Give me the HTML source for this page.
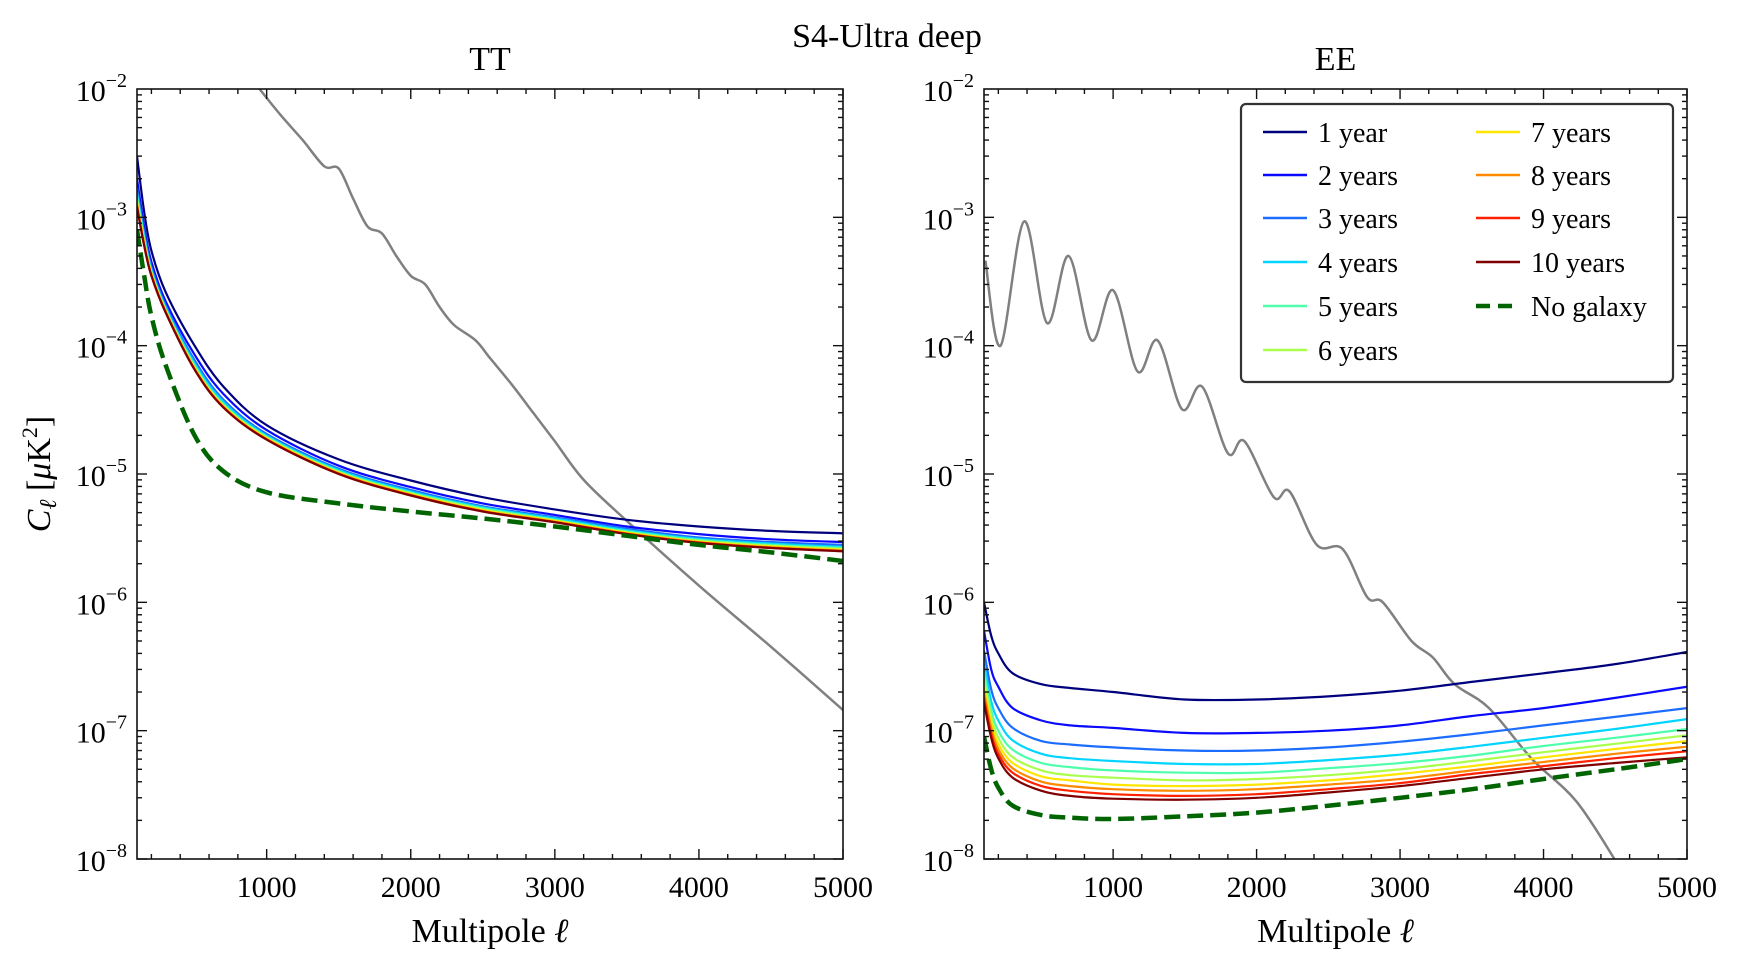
<!DOCTYPE html>
<html><head><meta charset="utf-8"><style>
html,body{margin:0;padding:0;background:#fff;}
svg{display:block;font-family:"Liberation Serif","DejaVu Serif",serif;}
</style></head><body>
<svg id="fig" width="1740" height="965" viewBox="0 0 1740 965" xmlns="http://www.w3.org/2000/svg">
<text x="887" y="47" font-size="34" text-anchor="middle">S4-Ultra deep</text>
<g id="root"></g>
</svg>
<script>
const ells = [100,150,200,300,500,700,1000,1500,2000,2500,3000,3500,4000,4500,5000];
const seriesNames = ["1 year","2 years","3 years","4 years","5 years","6 years","7 years","8 years","9 years","10 years"];
const seriesColors = ["#00007f","#0a0aff","#1c6dff","#00d4ff","#4dffaa","#aaff4d","#ffe500","#ff8a00","#ff2100","#7f0000"];
const tt1 = [3e-3,1.1e-3,5.5e-4,2.6e-4,1.0e-4,4.8e-5,2.4e-5,1.3e-5,8.9e-6,6.6e-6,5.3e-6,4.4e-6,3.9e-6,3.6e-6,3.45e-6];
const tt2 = [2.0e-3,8.4e-4,4.5e-4,2.2e-4,8.5e-5,4.2e-5,2.2e-5,1.16e-5,7.9e-6,5.9e-6,4.8e-6,3.9e-6,3.4e-6,3.1e-6,2.95e-6];
const tt3 = [1.7e-3,7.6e-4,4.1e-4,2.05e-4,7.7e-5,3.8e-5,2.05e-5,1.1e-5,7.5e-6,5.6e-6,4.6e-6,3.75e-6,3.2e-6,2.95e-6,2.8e-6];
const tt4 = [1.55e-3,7.1e-4,3.9e-4,1.97e-4,7.3e-5,3.65e-5,1.99e-5,1.075e-5,7.3e-6,5.5e-6,4.5e-6,3.65e-6,3.12e-6,2.87e-6,2.7e-6];
const tt5 = [1.45e-3,6.8e-4,3.8e-4,1.92e-4,7.0e-5,3.5e-5,1.95e-5,1.05e-5,7.15e-6,5.4e-6,4.4e-6,3.57e-6,3.06e-6,2.8e-6,2.65e-6];
const tt6 = [1.37e-3,6.5e-4,3.7e-4,1.88e-4,6.8e-5,3.43e-5,1.92e-5,1.035e-5,7.05e-6,5.3e-6,4.35e-6,3.52e-6,3.01e-6,2.76e-6,2.6e-6];
const tt7 = [1.3e-3,6.3e-4,3.63e-4,1.85e-4,6.7e-5,3.38e-5,1.89e-5,1.022e-5,6.95e-6,5.22e-6,4.3e-6,3.48e-6,2.97e-6,2.72e-6,2.56e-6];
const tt8 = [1.26e-3,6.15e-4,3.57e-4,1.83e-4,6.6e-5,3.34e-5,1.87e-5,1.012e-5,6.88e-6,5.16e-6,4.25e-6,3.44e-6,2.94e-6,2.68e-6,2.53e-6];
const tt9 = [1.22e-3,6.05e-4,3.52e-4,1.81e-4,6.53e-5,3.31e-5,1.86e-5,1.004e-5,6.83e-6,5.12e-6,4.22e-6,3.42e-6,2.92e-6,2.66e-6,2.51e-6];
const tt10 = [1.2e-3,6e-4,3.5e-4,1.8e-4,6.5e-5,3.3e-5,1.85e-5,1.0e-5,6.8e-6,5.1e-6,4.2e-6,3.4e-6,2.9e-6,2.65e-6,2.5e-6];
const ttNoGal = [8e-4,3.5e-4,1.7e-4,7e-5,2.0e-5,1.05e-5,7.2e-6,5.9e-6,5.1e-6,4.5e-6,3.9e-6,3.3e-6,2.8e-6,2.45e-6,2.1e-6];
const ee1 = [1.0e-6,5.5e-7,4.0e-7,2.8e-7,2.3e-7,2.15e-7,2.0e-7,1.75e-7,1.75e-7,1.85e-7,2.05e-7,2.4e-7,2.8e-7,3.3e-7,4.1e-7];
const ee2 = [6e-7,3e-7,2.2e-7,1.5e-7,1.2e-7,1.1e-7,1.05e-7,9.6e-8,9.6e-8,1.0e-7,1.1e-7,1.3e-7,1.5e-7,1.8e-7,2.2e-7];
const ee3 = [4.2e-7,2.1e-7,1.5e-7,1.05e-7,8.3e-8,7.8e-8,7.4e-8,7.0e-8,7.0e-8,7.4e-8,8.2e-8,9.4e-8,1.1e-7,1.28e-7,1.5e-7];
const ee4 = [3.4e-7,1.7e-7,1.2e-7,8.4e-8,6.6e-8,6.1e-8,5.8e-8,5.5e-8,5.5e-8,5.9e-8,6.5e-8,7.5e-8,8.8e-8,1.03e-7,1.23e-7];
const ee5 = [2.9e-7,1.45e-7,1.0e-7,7.1e-8,5.6e-8,5.2e-8,4.9e-8,4.7e-8,4.7e-8,5.1e-8,5.6e-8,6.4e-8,7.6e-8,8.8e-8,1.03e-7];
const ee6 = [2.5e-7,1.28e-7,8.8e-8,6.2e-8,4.9e-8,4.5e-8,4.3e-8,4.1e-8,4.2e-8,4.5e-8,5.0e-8,5.8e-8,6.8e-8,7.9e-8,9.2e-8];
const ee7 = [2.2e-7,1.15e-7,7.9e-8,5.6e-8,4.4e-8,4.1e-8,3.8e-8,3.7e-8,3.8e-8,4.1e-8,4.6e-8,5.3e-8,6.2e-8,7.2e-8,8.3e-8];
const ee8 = [2.0e-7,1.05e-7,7.2e-8,5.1e-8,4.0e-8,3.7e-8,3.5e-8,3.4e-8,3.5e-8,3.8e-8,4.2e-8,4.9e-8,5.7e-8,6.6e-8,7.5e-8];
const ee9 = [1.8e-7,9.5e-8,6.6e-8,4.7e-8,3.7e-8,3.4e-8,3.2e-8,3.1e-8,3.2e-8,3.5e-8,3.9e-8,4.6e-8,5.3e-8,6.1e-8,6.9e-8];
const ee10 = [1.65e-7,8.8e-8,6.1e-8,4.3e-8,3.4e-8,3.1e-8,2.95e-8,2.9e-8,3.0e-8,3.3e-8,3.7e-8,4.3e-8,5.0e-8,5.6e-8,6.2e-8];
const eeNoGal = [9e-8,5e-8,3.6e-8,2.6e-8,2.2e-8,2.1e-8,2.05e-8,2.15e-8,2.3e-8,2.6e-8,3.0e-8,3.5e-8,4.2e-8,5.0e-8,6.0e-8];
const ttCmbEll = [950,1100,1250,1400,1500,1600,1700,1800,1900,2000,2100,2200,2300,2450,2550,2700,2850,3000,3200,3500,4000,4500,5000];
const ttCmbVal = [1e-2,6.2e-3,4.0e-3,2.5e-3,2.4e-3,1.4e-3,8.5e-4,7.5e-4,5.0e-4,3.5e-4,3.0e-4,2.0e-4,1.45e-4,1.1e-4,8.0e-5,5.0e-5,3.0e-5,1.8e-5,9e-6,4.3e-6,1.35e-6,4.5e-7,1.45e-7];
const eeCmbEll = [110,215,380,540,690,850,1000,1170,1310,1480,1620,1800,1915,2120,2230,2420,2600,2770,2880,3080,3230,3380,3620,3920,4230,4520];
const eeCmbVal = [4.6e-4,1.0e-4,9.3e-4,1.5e-4,5.0e-4,1.1e-4,2.7e-4,6.3e-5,1.1e-4,3.2e-5,4.8e-5,1.45e-5,1.8e-5,6.6e-6,7.3e-6,2.8e-6,2.6e-6,1.1e-6,1.0e-6,5e-7,3.7e-7,2.3e-7,1.5e-7,6e-8,2.8e-8,9e-9];
const xTicks = [1000,2000,3000,4000,5000];
const yTickExps = [-2,-3,-4,-5,-6,-7,-8];

const ttSeries=[tt1,tt2,tt3,tt4,tt5,tt6,tt7,tt8,tt9,tt10];
const eeSeries=[ee1,ee2,ee3,ee4,ee5,ee6,ee7,ee8,ee9,ee10];
const NS="http://www.w3.org/2000/svg";
const root=document.getElementById('root');
function mk(tag,attrs,parent){const e=document.createElementNS(NS,tag);for(const k in attrs)e.setAttribute(k,attrs[k]);(parent||root).appendChild(e);return e;}
const TOP=89,BOT=859,XMIN=100,XMAX=5000;
function sy(v){return TOP+(-2-Math.log10(v))*(BOT-TOP)/6;}
function path(xs,ys,sx){
  const pts=[];for(let i=0;i<xs.length;i++)pts.push([sx(xs[i]),Math.min(Math.max(sy(ys[i]),TOP-40),BOT+40)]);
  let d="M"+pts[0][0].toFixed(1)+","+pts[0][1].toFixed(1);
  for(let i=0;i<pts.length-1;i++){
    const p0=pts[Math.max(i-1,0)],p1=pts[i],p2=pts[i+1],p3=pts[Math.min(i+2,pts.length-1)];
    const c1=[p1[0]+(p2[0]-p0[0])/6,p1[1]+(p2[1]-p0[1])/6],c2=[p2[0]-(p3[0]-p1[0])/6,p2[1]-(p3[1]-p1[1])/6];
    d+=" C"+c1[0].toFixed(1)+","+c1[1].toFixed(1)+" "+c2[0].toFixed(1)+","+c2[1].toFixed(1)+" "+p2[0].toFixed(1)+","+p2[1].toFixed(1);
  }
  return d;
}
function panel(L,R,title,series,nogal,cmbE,cmbV,key){
  const sx=v=>L+(v-XMIN)/(XMAX-XMIN)*(R-L);
  const g=mk('g',{});
  
  
  const cid='clip'+key;
  const cp=mk('clipPath',{id:cid},g);mk('rect',{x:L,y:TOP,width:R-L,height:BOT-TOP},cp);
  const plot=mk('g',{'clip-path':'url(#'+cid+')'},g);
  const cm=mk('path',{d:path(cmbE,cmbV,sx),fill:'none',stroke:'#808080','stroke-width':2.5},plot);
  
  
  for(let k=0;k<series.length;k++){
    const p=mk('path',{d:path(ells,series[k],sx),fill:'none',stroke:seriesColors[k],'stroke-width':2.2},plot);
    
    
  }
  const ng=mk('path',{d:path(ells,nogal,sx),fill:'none',stroke:'#006400','stroke-width':4.5,'stroke-dasharray':'16,7'},plot);
  
  
  const fr=mk('rect',{x:L,y:TOP,width:R-L,height:BOT-TOP,fill:'none',stroke:'#111','stroke-width':1.6},g);
  
  
  for(let v=200;v<=5000;v+=200){
    const x=sx(v),len=(v%1000===0)?10:5;
    mk('line',{x1:x,y1:BOT,x2:x,y2:BOT-len,stroke:'#111','stroke-width':1.4},g);
    mk('line',{x1:x,y1:TOP,x2:x,y2:TOP+len,stroke:'#111','stroke-width':1.4},g);
  }
  for(const v of xTicks){
    const t=mk('text',{x:sx(v),y:BOT+38,'font-size':30,'text-anchor':'middle'},g);t.textContent=v;
    
    
  }
  for(let e=-8;e<-2;e++)for(let m=1;m<10;m++){
    const y=sy(m*Math.pow(10,e)),len=m===1?10:5;
    mk('line',{x1:L,y1:y,x2:L+len,y2:y,stroke:'#111','stroke-width':1.4},g);
    mk('line',{x1:R,y1:y,x2:R-len,y2:y,stroke:'#111','stroke-width':1.4},g);
  }
  for(const e of yTickExps){
    const t=mk('text',{x:L-10,y:sy(Math.pow(10,e))+12,'font-size':30,'text-anchor':'end'},g);
    const a=mk('tspan',{},t);a.textContent='10';
    const b=mk('tspan',{'font-size':20,dy:-14},t);b.textContent='\u2212'+(-e);
    
    
  }
  const tt=mk('text',{x:(L+R)/2,y:70,'font-size':34,'text-anchor':'middle'},g);tt.textContent=title;
  
  
  const xl=mk('text',{x:(L+R)/2,y:942,'font-size':34,'text-anchor':'middle'},g);
  xl.textContent='Multipole ';
  const ell=mk('tspan',{'font-style':'italic'},xl);ell.textContent='\u2113';
  
  
}
panel(137,843,'TT',ttSeries,ttNoGal,ttCmbEll,ttCmbVal,'tt');
panel(984,1687,'EE',eeSeries,eeNoGal,eeCmbEll,eeCmbVal,'ee');
const yl=mk('text',{x:0,y:0,'font-size':34,'text-anchor':'middle',transform:'translate(50,474) rotate(-90)'});


const c=mk('tspan',{'font-style':'italic'},yl);c.textContent='C';
const s=mk('tspan',{'font-style':'italic','font-size':24,dy:6},yl);s.textContent='\u2113';
const r=mk('tspan',{dy:-6},yl);r.textContent=' [';
const mu=mk('tspan',{'font-style':'italic'},yl);mu.textContent='\u03bc';
const r1=mk('tspan',{},yl);r1.textContent='K';
const sq=mk('tspan',{'font-size':22,dy:-13},yl);sq.textContent='2';
const r2=mk('tspan',{dy:13},yl);r2.textContent=']';
const lg=mk('g',{});


mk('rect',{x:1241,y:104,width:432,height:278,rx:5,fill:'#fff',stroke:'#333','stroke-width':2.2},lg);
const rowsY=[132,175,218,262,306,350];
const names=seriesNames.concat(['No galaxy']);
for(let i=0;i<11;i++){
  const col=i<6?0:1,row=i<6?i:i-6;
  const x0=col?1476:1263,y=rowsY[row];
  const e=mk('g',{},lg);
  
  
  if(i<10)mk('line',{x1:x0,y1:y,x2:x0+44,y2:y,stroke:seriesColors[i],'stroke-width':2.5},e);
  else mk('line',{x1:x0,y1:y,x2:x0+44,y2:y,stroke:'#006400','stroke-width':4.5,'stroke-dasharray':'14,8'},e);
  const t=mk('text',{x:x0+55,y:y+10,'font-size':28},e);t.textContent=names[i];
}
</script>
</body></html>
